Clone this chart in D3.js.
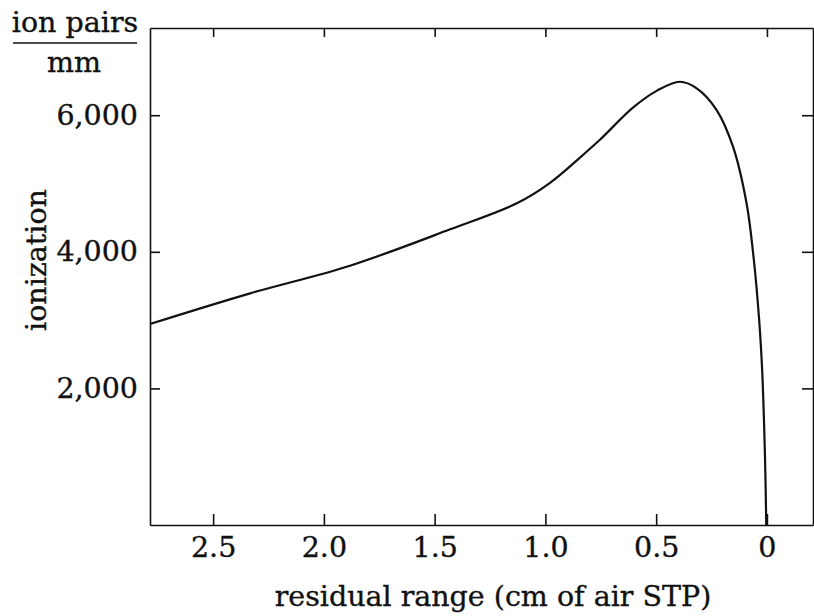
<!DOCTYPE html>
<html>
<head>
<meta charset="utf-8">
<script src="https://cdn.jsdelivr.net/npm/d3@7"></script>
<style>
  body { margin: 0; background: #fff; }
  text { font-family: "DejaVu Serif", "Liberation Serif", serif; fill: #111; stroke: #111; stroke-width: 0.35px; }
</style>
</head>
<body>
<script>
// residual range (cm of air STP) and ionization (ion pairs / mm)
var range      = [2.785, 2.333, 1.882, 1.430, 1.129, 0.979, 0.830, 0.754, 0.605, 0.496, 0.393, 0.317, 0.227, 0.153, 0.092, 0.059, 0.035, 0.022, 0.013, 0.007, 0.003];
var ionization = [2943, 3392, 3797, 4329, 4710, 5010, 5420, 5640, 6110, 6360, 6490, 6394, 6076, 5539, 4710, 3880, 3001, 2300, 1500, 750, 0];

var xTicks = [2.5, 2.0, 1.5, 1.0, 0.5, 0];
var xTickLabels = ['2.5', '2.0', '1.5', '1.0', '0.5', '0'];
var yTicks = [2000, 4000, 6000];
var yTickLabels = ['2,000', '4,000', '6,000'];

var width = 814, height = 616;
var plotLeft = 150, plotRight = 813, plotTop = 28, plotBottom = 525;
var fontSize = 28.5;

var svg = d3.select('body').append('svg').attr('width', width).attr('height', height);

var x = d3.scaleLinear().domain([2.785, -0.208]).range([plotLeft, plotRight]);
var y = d3.scaleLinear().domain([0, 7277]).range([plotBottom, plotTop]);

function styleAxis(g) {
  g.selectAll('path, line').attr('stroke', '#111').attr('stroke-width', 1.6);
  g.selectAll('text').attr('font-size', fontSize).attr('fill', '#111')
    .attr('font-family', '"DejaVu Serif", "Liberation Serif", serif');
}

// bottom
svg.append('g').attr('transform', 'translate(0,' + plotBottom + ')')
  .call(d3.axisBottom(x).tickValues(xTicks).tickSizeInner(-11).tickSizeOuter(0).tickPadding(12)
    .tickFormat(function (d, i) { return xTickLabels[i]; }))
  .call(styleAxis);

// top
svg.append('g').attr('transform', 'translate(0,' + plotTop + ')')
  .call(d3.axisTop(x).tickValues(xTicks).tickSizeInner(-9).tickSizeOuter(0).tickFormat(''))
  .call(styleAxis);

// left
svg.append('g').attr('transform', 'translate(' + plotLeft + ',0)')
  .call(d3.axisLeft(y).tickValues(yTicks).tickSizeInner(-10).tickSizeOuter(0).tickPadding(12)
    .tickFormat(function (d, i) { return yTickLabels[i]; }))
  .call(styleAxis);

// right
svg.append('g').attr('transform', 'translate(' + plotRight + ',0)')
  .call(d3.axisRight(y).tickValues(yTicks).tickSizeInner(-11).tickSizeOuter(0).tickFormat(''))
  .call(styleAxis);

// the curve
var pts = range.map(function (r, i) { return [r, ionization[i]]; });
svg.append('path')
  .datum(pts)
  .attr('fill', 'none')
  .attr('stroke', '#111')
  .attr('stroke-width', 2.2)
  .attr('d', d3.line()
    .x(function (d) { return x(d[0]); })
    .y(function (d) { return y(d[1]); })
    .curve(d3.curveCatmullRom.alpha(0.5)));

// axis titles
svg.append('text').attr('x', 493).attr('y', 606).attr('text-anchor', 'middle')
  .attr('font-size', fontSize).text('residual range (cm of air STP)');

svg.append('text').attr('transform', 'translate(46,260) rotate(-90)').attr('text-anchor', 'middle')
  .attr('font-size', fontSize).text('ionization');

// unit: ion pairs / mm
svg.append('text').attr('x', 75).attr('y', 32).attr('text-anchor', 'middle')
  .attr('font-size', fontSize).text('ion pairs');
svg.append('line').attr('x1', 13).attr('x2', 137).attr('y1', 43).attr('y2', 43)
  .attr('stroke', '#111').attr('stroke-width', 1.6);
svg.append('text').attr('x', 74).attr('y', 72).attr('text-anchor', 'middle')
  .attr('font-size', fontSize).text('mm');
</script>
</body>
</html>
